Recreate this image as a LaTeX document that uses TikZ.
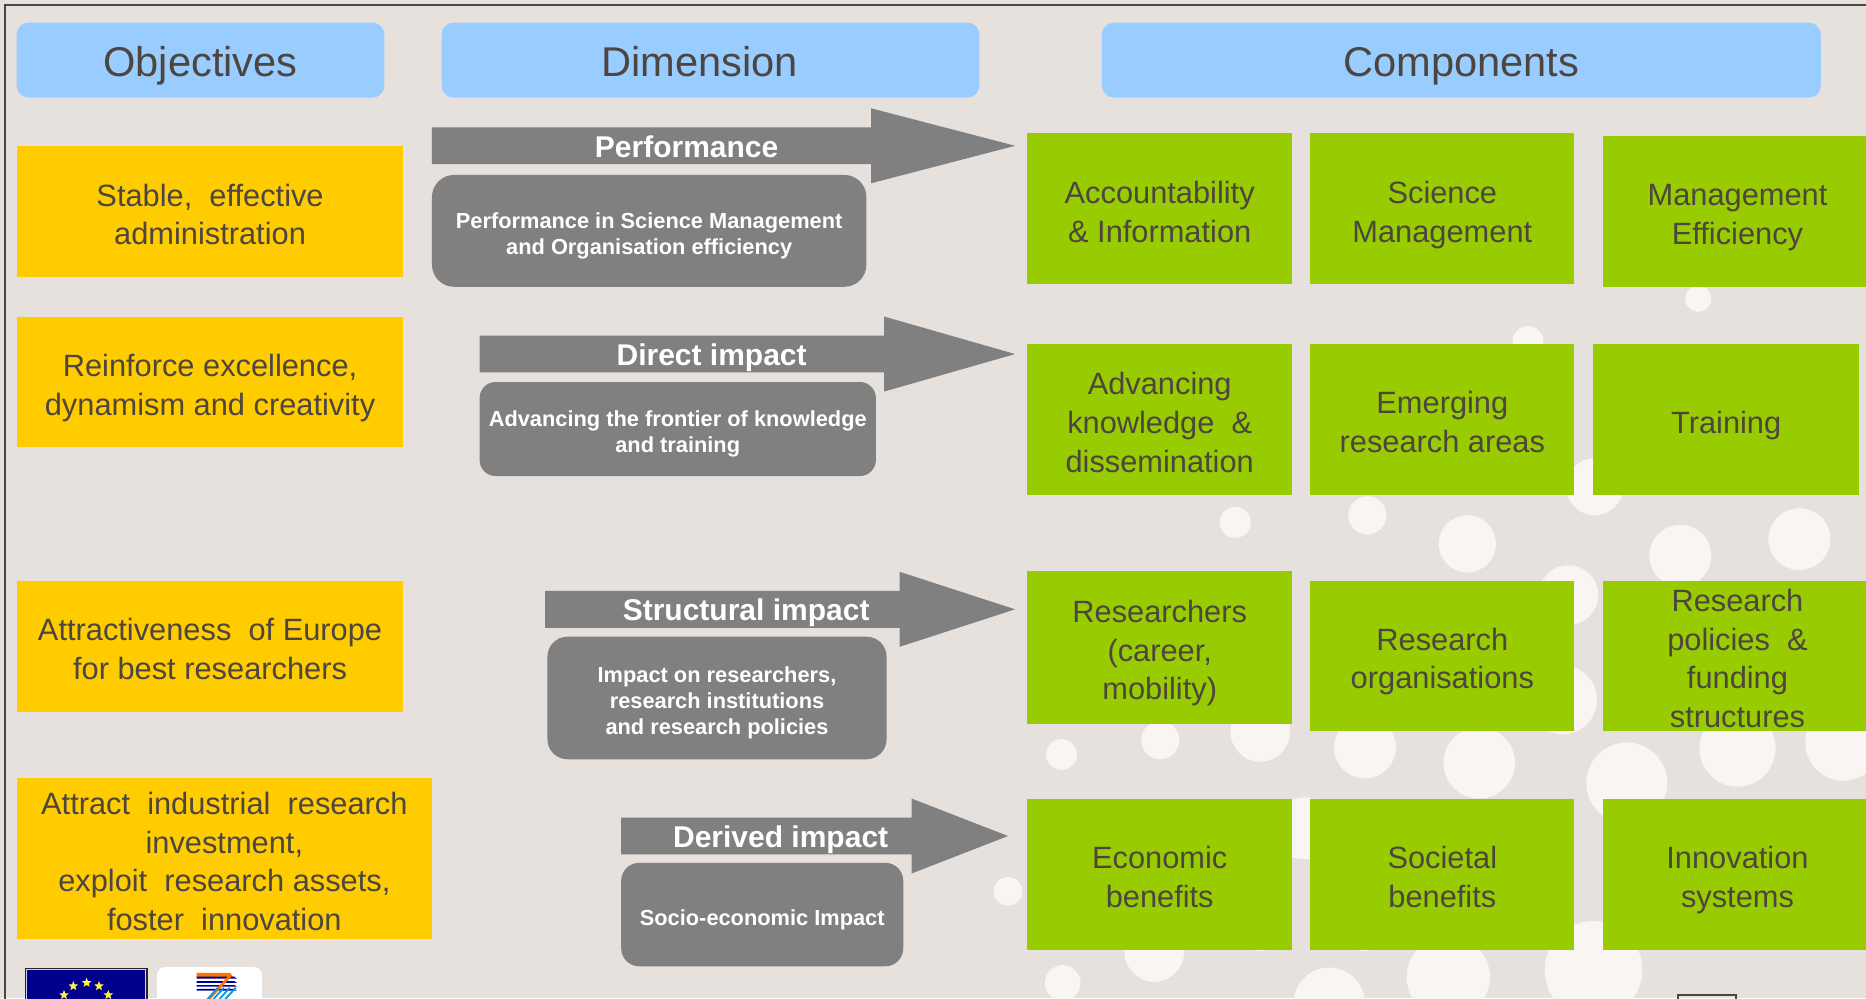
\documentclass[tikz,border=0pt]{standalone}
\usepackage{fontspec}
\setmainfont{Liberation Sans}
\usetikzlibrary{shapes.geometric}
\definecolor{bgc}{HTML}{E6E1DD}
\definecolor{bub}{HTML}{F8F5F3}
\definecolor{ink}{HTML}{4D453F}
\definecolor{hdr}{HTML}{99CCFF}
\definecolor{yel}{HTML}{FFCC00}
\definecolor{grn}{HTML}{99CC00}
\definecolor{gry}{HTML}{808080}
\newcommand{\toprule}[1]{\rule{0pt}{#1pt}}
\newcommand{\botrule}[1]{\rule[-#1pt]{0pt}{#1pt}}
\newcommand{\nodetop}{}
\newcommand{\nodebot}{}
\tikzset{
  every node/.style={inner sep=0pt,outer sep=0pt},
  struts/.style 2 args={/utils/exec={\def\nodetop{\toprule{#1}}\def\nodebot{\botrule{#2}}}},
  hdrbox/.style={fill=hdr,rounded corners=6pt,text=ink,font=\fontsize{20.8}{25}\selectfont,struts={21.8}{5}},
  objbox/.style={fill=yel,text=ink,align=center,font=\fontsize{15.4}{19.35}\selectfont,struts={17.2}{3.4}},
  cmpbox/.style={fill=grn,text=ink,align=center,font=\fontsize{15.4}{19.35}\selectfont,struts={17.2}{3.4}},
  subbox/.style={fill=gry,text=white,align=center,font=\fontsize{10.9}{12.9}\selectfont\bfseries,struts={13.1}{2.5}},
  arrowlabel/.style={text=white,font=\fontsize{15}{18}\selectfont\bfseries,
    execute at begin node=\toprule{14.2},execute at end node=\botrule{3.5}},
  bigarrow/.style={fill=gry},
  euflagstar/.style={star,star points=5,star point ratio=2.3,fill=yellow!75!white,minimum size=5pt}
}
\newcommand{\boxnode}[7]{%
  \pgfmathsetmacro{\bw}{(#5-#3)*0.595}%
  \pgfmathsetmacro{\bh}{(#6-#4)*0.595}%
  \pgfmathsetmacro{\bx}{(#3+#5)/2}%
  \pgfmathsetmacro{\by}{(#4+#6)/2}%
  \node[#2,minimum width=\bw pt,minimum height=\bh pt] (#1) at (\bx,\by) {\nodetop #7\nodebot};}
\newcommand{\bigarr}[7]{% name x0 x1 tip ymid halfshaft halfhead
  \fill[bigarrow] (#2,#5-#6) -- (#3,#5-#6) -- (#3,#5-#7) -- (#4,#5) -- (#3,#5+#7) -- (#3,#5+#6) -- (#2,#5+#6) -- cycle;}
\begin{document}
\begin{tikzpicture}[x=0.595pt,y=-0.595pt]
\useasboundingbox (0,0) rectangle (1568,838.64);
\clip (0,0) rectangle (1568,838.64);
\fill[bgc] (0,0) rectangle (1568,838.64);
% bubbles
\foreach \cx/\cy/\r in {1427/251/11,1284/287/13,1038/439/13,1149/433/16,1233/457/24,1340/409/24,1412/467/26,1512/453/26,1318/500/25,1313/588/29,892/634/13,975/622/16,1059/615/25,1147/628/26,1243/641/30,1367/658/34,1460/629/32,1549/624/32,847/749/12,1096/696/26,1339/815/41,1217/821/35,1117/843/30,970/800/25,893/826/15,1059/775/24,1147/772/27}
  \fill[bub] (\cx,\cy) circle[radius=\r];
% frame
\draw[ink,line width=1pt] (4.5,840) -- (4.5,4.5) -- (1570,4.5);
% headers
\boxnode{hobj}{hdrbox}{14}{19}{323}{82}{Objectives}
\boxnode{hdim}{hdrbox}{371}{19}{823}{82}{Dimension\kern10.7pt\relax}
\boxnode{hcmp}{hdrbox}{926}{19}{1530}{82}{Components}
% objectives
\boxnode{o1}{objbox}{14}{123}{339}{233}{Stable,\ \ effective\\administration}
\boxnode{o2}{objbox}{14}{266}{339}{376}{Reinforce excellence,\\dynamism and creativity}
\boxnode{o3}{objbox}{14}{488}{339}{598}{Attractiveness\ \ of Europe\\for best researchers}
\boxnode{o4}{objbox}{14}{654}{363}{789}{Attract\ \ industrial\ \ research\\investment,\\exploit\ \ research assets,\\foster\ \ innovation}
% arrows
\bigarr{a1}{363}{732}{853}{122.5}{15.5}{31.5}
\bigarr{a2}{403}{743}{853}{297.5}{15.5}{31.5}
\bigarr{a3}{458}{756}{853}{512}{15.5}{31.5}
\bigarr{a4}{522}{766}{847}{702.5}{15.5}{31.5}
\node[arrowlabel] (l1) at (577,123) {Performance};
\node[arrowlabel] (l2) at (598,298) {Direct impact};
\node[arrowlabel] (l3) at (627,512) {Structural impact};
\node[arrowlabel] (l4) at (656,703) {Derived impact};
% sub boxes
\boxnode{s1}{subbox,rounded corners=11pt}{363}{147}{728}{241}{Performance in Science Management\\and Organisation efficiency}
\boxnode{s2}{subbox,rounded corners=8pt}{403}{321}{736}{400}{Advancing the frontier of knowledge\\and training}
\boxnode{s3}{subbox,rounded corners=10pt}{460}{535}{745}{638}{Impact on researchers,\\research institutions\\and research policies}
\boxnode{s4}{subbox,rounded corners=9pt}{522}{725}{759}{812}{Socio-economic Impact}
% components
\boxnode{c11}{cmpbox}{863}{112}{1086}{239}{Accountability\\\& Information}
\boxnode{c12}{cmpbox}{1101}{112}{1323}{239}{Science\\Management}
\boxnode{c13}{cmpbox}{1347}{114}{1573}{241}{Management\\Efficiency}
\boxnode{c21}{cmpbox}{863}{289}{1086}{416}{Advancing\\knowledge \ \&\\dissemination}
\boxnode{c22}{cmpbox}{1101}{289}{1323}{416}{Emerging\\research areas}
\boxnode{c23}{cmpbox}{1339}{289}{1562}{416}{Training}
\boxnode{c31}{cmpbox}{863}{480}{1086}{608}{Researchers\\(career,\\mobility)}
\boxnode{c32}{cmpbox}{1101}{488}{1323}{614}{Research\\organisations}
\boxnode{c33}{cmpbox,struts={15.2}{1.4}}{1347}{488}{1573}{614}{Research\\policies \ \&\\funding\\structures}
\boxnode{c41}{cmpbox}{863}{671}{1086}{798}{Economic\\benefits}
\boxnode{c42}{cmpbox}{1101}{671}{1323}{798}{Societal\\benefits}
\boxnode{c43}{cmpbox}{1347}{671}{1573}{798}{Innovation\\systems}
% EU flag (cropped)
\fill[black!85] (21,813) rectangle (124,845);
\fill[white!80!blue] (22,814) rectangle (123,845);
\fill[blue!55!black] (23,815) rectangle (122,845);
\foreach \sx/\sy [count=\si] in {72.8/825.8,61.6/828.6,83.2/828.6,53.8/836.1,91/836.1}
  \node[euflagstar] (st\si) at (\sx,\sy) {};
% FP7 logo (cropped)
\fill[white,rounded corners=4pt] (132,812.6) rectangle (220,860);
\fill[orange!90!red] (165.3,817.4) -- (193.3,817.4) -- (196,821) -- (165.3,821) -- cycle;
\foreach \ya/\yb in {820.7/822.4,824.4/825.8,827.7/829.1,831/832.5}
  \fill[blue!60!black] (165.3,\ya) -- (197,\ya) -- (199,\yb) -- (165.3,\yb) -- cycle;
\draw[orange!90!red,line width=1.4pt] (193.3,820) -- (175,840);
\foreach \dx in {0,5,10,15}
  \draw[cyan!80!blue,line width=0.9pt] (198-\dx,830) -- (189-\dx,840);
% cropped box bottom right
\draw[ink,line width=1pt] (1410,845) -- (1410,836.5) -- (1459,836.5) -- (1459,845);
\end{tikzpicture}
\end{document}
